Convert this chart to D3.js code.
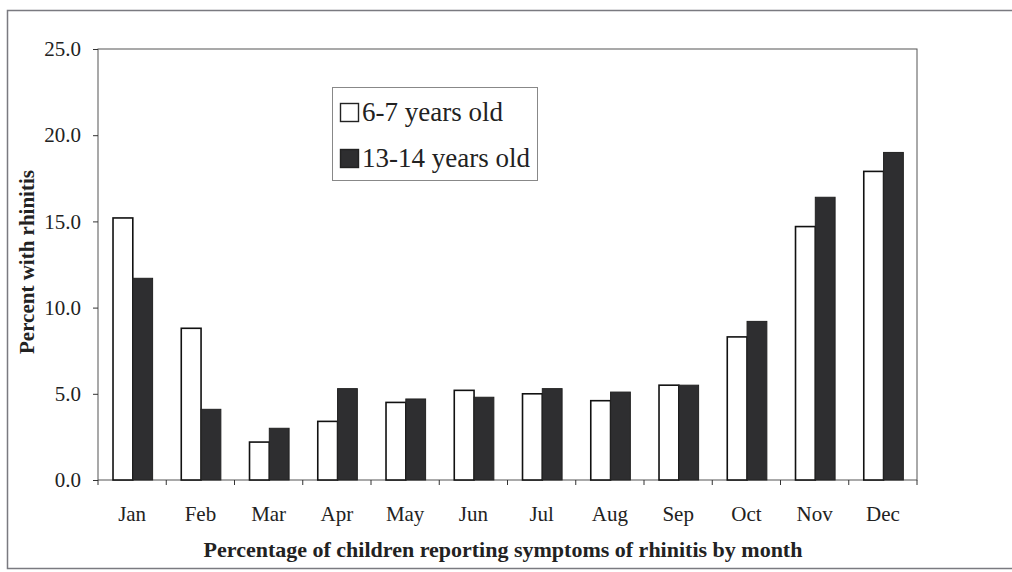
<!DOCTYPE html>
<html>
<head>
<meta charset="utf-8">
<script src="https://cdn.jsdelivr.net/npm/d3@7"></script>
<style>
    body { margin: 0; background: #fff; }
    svg text { font-family: "Liberation Serif", "Times New Roman", serif; fill: #222; }
    .axis path { display: none; }
    .axis line { stroke: #333; }
    .title { font-weight: bold; }
</style>
</head>
<body>
<script>

    var months = ["Jan", "Feb", "Mar", "Apr", "May", "Jun", "Jul", "Aug", "Sep", "Oct", "Nov", "Dec"];
    var series = ["6-7 years old", "13-14 years old"];
    var young = [15.2, 8.8, 2.2, 3.4, 4.5, 5.2, 5.0, 4.6, 5.5, 8.3, 14.7, 17.9];
    var teen = [11.7, 4.1, 3.0, 5.3, 4.7, 4.8, 5.3, 5.1, 5.5, 9.2, 16.4, 19.0];
    var yTicks = [0, 5, 10, 15, 20, 25];

    var width = 1012, height = 572;
    var plotL = 98, plotR = 917, plotT = 49, plotB = 480;
    var serif = '"Liberation Serif", "Times New Roman", serif';

    var svg = d3.select("body").append("svg")
        .attr("width", width)
        .attr("height", height);

    // outer frame of the scanned figure
    svg.append("rect")
        .attr("x", 7.5).attr("y", 10.5)
        .attr("width", 1010).attr("height", 558)
        .attr("fill", "none")
        .attr("stroke", "#7a7a80")
        .attr("stroke-width", 1.5);

    var x0 = d3.scaleBand().domain(months).range([plotL, plotR]);
    var x1 = d3.scaleBand().domain(series)
        .range([x0.bandwidth() * 0.22, x0.bandwidth() * 0.8]);
    var y = d3.scaleLinear().domain([0, 25]).range([plotB, plotT]);

    // plot box
    svg.append("rect")
        .attr("x", plotL).attr("y", plotT)
        .attr("width", plotR - plotL).attr("height", plotB - plotT)
        .attr("fill", "none")
        .attr("stroke", "#555")
        .attr("stroke-width", 1);

    svg.append("g")
        .attr("class", "axis")
        .attr("transform", "translate(" + plotL + ",0)")
        .call(d3.axisLeft(y).tickValues(yTicks).tickSize(5).tickPadding(12)
            .tickFormat(d3.format(".1f")))
        .selectAll("text")
        .style("font-family", serif)
        .style("font-size", "21px");

    svg.append("g")
        .attr("class", "axis")
        .attr("transform", "translate(0," + plotB + ")")
        .call(d3.axisBottom(x0).tickSize(0).tickPadding(26))
        .selectAll("text")
        .style("font-family", serif)
        .style("font-size", "21px");

    // boundary ticks between months
    svg.append("g").selectAll("line")
        .data(months.concat(["end"]))
        .join("line")
        .attr("x1", function (d, i) { return plotL + i * x0.step(); })
        .attr("x2", function (d, i) { return plotL + i * x0.step(); })
        .attr("y1", plotB)
        .attr("y2", plotB + 5)
        .attr("stroke", "#333");

    var groups = svg.append("g").selectAll("g")
        .data(months)
        .join("g")
        .attr("transform", function (d) { return "translate(" + x0(d) + ",0)"; });

    groups.append("rect")
        .attr("x", x1(series[0]))
        .attr("y", function (d, i) { return y(young[i]); })
        .attr("width", x1.bandwidth())
        .attr("height", function (d, i) { return plotB - y(young[i]); })
        .attr("fill", "#fff")
        .attr("stroke", "#111")
        .attr("stroke-width", 1.6);

    groups.append("rect")
        .attr("x", x1(series[1]))
        .attr("y", function (d, i) { return y(teen[i]); })
        .attr("width", x1.bandwidth())
        .attr("height", function (d, i) { return plotB - y(teen[i]); })
        .attr("fill", "#2e2e30")
        .attr("stroke", "#222")
        .attr("stroke-width", 1);

    // axis titles
    svg.append("text")
        .attr("class", "title")
        .attr("x", 503).attr("y", 557)
        .attr("text-anchor", "middle")
        .style("font-family", serif)
        .style("font-size", "22px")
        .text("Percentage of children reporting symptoms of rhinitis by month");

    svg.append("text")
        .attr("class", "title")
        .attr("transform", "translate(34,262) rotate(-90)")
        .attr("text-anchor", "middle")
        .style("font-family", serif)
        .style("font-size", "21px")
        .text("Percent with rhinitis");

    // legend
    var legend = svg.append("g").attr("transform", "translate(332,87)");
    legend.append("rect")
        .attr("x", 0.5).attr("y", 0.5)
        .attr("width", 205).attr("height", 93)
        .attr("fill", "#fff")
        .attr("stroke", "#888");

    var fills = ["#fff", "#2e2e30"];
    var items = legend.selectAll("g.item")
        .data(series)
        .join("g")
        .attr("class", "item")
        .attr("transform", function (d, i) { return "translate(8," + (16 + i * 46) + ")"; });

    items.append("rect")
        .attr("x", 0.5).attr("y", 0.5)
        .attr("width", 18).attr("height", 18)
        .attr("fill", function (d, i) { return fills[i]; })
        .attr("stroke", "#222")
        .attr("stroke-width", 1.4);

    items.append("text")
        .attr("x", 22).attr("y", 18)
        .style("font-family", serif)
        .style("font-size", "27px")
        .text(function (d) { return d; });

</script>
</body>
</html>
